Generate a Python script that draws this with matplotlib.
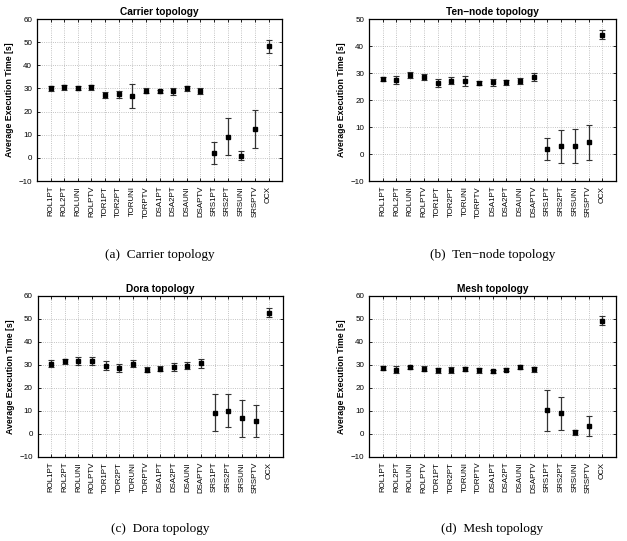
"""Average execution time per algorithm, four topologies"""
import numpy as np
import matplotlib
matplotlib.use('Agg')
import matplotlib.pyplot as plt

plt.rcParams['font.family'] = ['Liberation Sans', 'DejaVu Sans']

algorithms = ['ROL1PT', 'ROL2PT', 'ROLUNI', 'ROLPTV', 'TOR1PT', 'TOR2PT', 'TORUNI',
              'TORPTV', 'DSA1PT', 'DSA2PT', 'DSAUNI', 'DSAPTV', 'SRS1PT', 'SRS2PT',
              'SRSUNI', 'SRSPTV', 'OCX']

carrier_mean = [30.1, 30.5, 30.1, 30.5, 27.2, 27.5, 26.8, 29.1, 28.7, 28.7, 30.1, 29.0,
                2.0, 9.2, 1.0, 12.5, 48.2]
carrier_err = [1.0, 1.0, 0.8, 1.0, 1.2, 1.5, 5.3, 1.2, 0.7, 1.5, 1.0, 1.3,
               4.7, 8.0, 2.0, 8.3, 2.7]

tennode_mean = [27.9, 27.4, 29.2, 28.5, 26.2, 27.2, 27.1, 26.3, 26.5, 26.5, 27.1, 28.4,
                1.8, 2.8, 3.0, 4.4, 44.2]
tennode_err = [0.7, 1.5, 1.0, 1.2, 1.5, 1.2, 1.8, 0.8, 1.3, 0.8, 1.1, 1.5,
               4.0, 6.2, 6.4, 6.5, 1.6]

dora_mean = [30.6, 31.6, 31.7, 31.7, 29.7, 28.8, 30.6, 28.0, 28.4, 29.1, 29.7, 30.7,
             9.3, 10.1, 6.8, 5.7, 52.8]
dora_err = [1.5, 1.2, 1.8, 1.8, 2.0, 1.8, 1.5, 1.0, 1.2, 1.7, 1.5, 2.0,
            8.0, 7.2, 8.1, 6.8, 2.1]

mesh_mean = [28.8, 28.0, 29.0, 28.4, 27.7, 27.7, 28.3, 27.7, 27.2, 28.0, 29.1, 28.1,
             10.3, 9.0, 0.7, 3.6, 49.3]
mesh_err = [0.8, 1.7, 0.7, 1.2, 1.0, 1.3, 0.8, 1.2, 0.8, 0.7, 1.0, 1.0,
            9.0, 7.2, 1.2, 4.3, 1.8]


def _plot_panel(ax, mean, err, title, ymax):
    x = np.arange(1, len(algorithms) + 1)
    ax.errorbar(x, mean, yerr=err, fmt='s', color='black', ecolor='#333333',
                markersize=2.2, elinewidth=0.9, capsize=2.5, capthick=0.8)
    ax.set_xlim(0, len(algorithms) + 1)
    ax.set_ylim(-10, ymax)
    ax.set_yticks(np.arange(-10, ymax + 1, 10))
    ax.set_xticks(x)
    ax.set_xticklabels(algorithms, rotation=90, fontsize=5.7)
    ax.tick_params(axis='y', labelsize=5.8)
    ax.tick_params(direction='in', top=True, right=True, length=2.5, width=0.6)
    ax.grid(True, linestyle=':', color='#b0b0b0', linewidth=0.6)
    ax.set_ylabel('Average Execution Time [s]', fontsize=6.3, fontweight='bold', labelpad=3)
    ax.set_title(title, fontsize=7.3, fontweight='bold', pad=3)
    for sp in ax.spines.values():
        sp.set_linewidth(0.9)


fig = plt.figure(figsize=(6.27, 5.41), dpi=100)

panels = [
    ([0.059, 0.6654, 0.391, 0.2994], carrier_mean, carrier_err, 'Carrier topology', 60,
     '(a)  Carrier topology', 0.5287),
    ([0.5885, 0.6654, 0.394, 0.2994], tennode_mean, tennode_err, 'Ten\u2212node topology', 50,
     '(b)  Ten\u2212node topology', 0.5287),
    ([0.060, 0.1553, 0.391, 0.2976], dora_mean, dora_err, 'Dora topology', 60,
     '(c)  Dora topology', 0.0222),
    ([0.5885, 0.1553, 0.394, 0.2976], mesh_mean, mesh_err, 'Mesh topology', 60,
     '(d)  Mesh topology', 0.0222),
]

for rect, mean, err, title, ymax, caption, cy in panels:
    ax = fig.add_axes(rect)
    _plot_panel(ax, mean, err, title, ymax)
    fig.text(rect[0] + rect[2] / 2, cy, caption, ha='center', va='center',
             fontsize=9.5, family=['Liberation Serif', 'DejaVu Serif'])

plt.savefig('out.png', dpi=100)
plt.close()
